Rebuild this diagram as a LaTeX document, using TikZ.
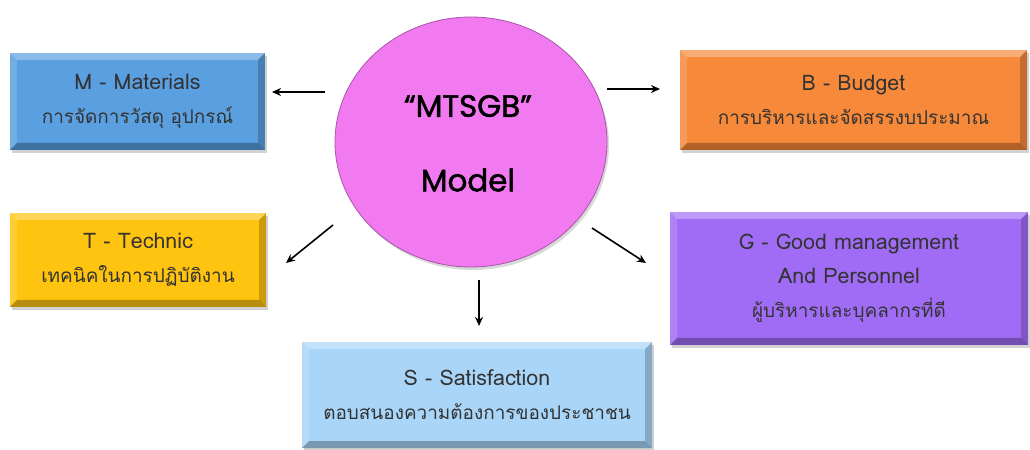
\documentclass[tikz,border=0pt]{standalone}
\usepackage{fontspec}
\usetikzlibrary{shapes.geometric,shadows,calc,arrows.meta}
\newfontfamily\thaifont[Script=Thai]{Loma}
\newfontfamily\circfont[FakeBold=1.6]{Poppins}
\newcommand{\latl}[1]{{\fontsize{21.5}{34}\selectfont #1}}
\definecolor{mblue}{HTML}{5A9FE0}
\definecolor{borange}{HTML}{F7893A}
\definecolor{tyellow}{HTML}{FFC410}
\definecolor{gpurple}{HTML}{A06CF6}
\definecolor{slight}{HTML}{A8D5F8}
\definecolor{cpink}{HTML}{F27AF0}
\definecolor{txt}{HTML}{333333}
\tikzset{
  bevel/.style={path picture={
    \fill[white,opacity=0.30] (path picture bounding box.north west) -- (path picture bounding box.north east) -- ++(-7bp,-7bp) -- ($(path picture bounding box.north west)+(7bp,-7bp)$) -- cycle;
    \fill[white,opacity=0.15] (path picture bounding box.north west) -- ($(path picture bounding box.north west)+(7bp,-7bp)$) -- ($(path picture bounding box.south west)+(7bp,7bp)$) -- (path picture bounding box.south west) -- cycle;
    \fill[black,opacity=0.28] (path picture bounding box.south west) -- (path picture bounding box.south east) -- ++(-7bp,7bp) -- ($(path picture bounding box.south west)+(7bp,7bp)$) -- cycle;
    \fill[black,opacity=0.20] (path picture bounding box.north east) -- ($(path picture bounding box.north east)+(-7bp,-7bp)$) -- ($(path picture bounding box.south east)+(-7bp,7bp)$) -- (path picture bounding box.south east) -- cycle;
  }},
  box/.style={rectangle, inner sep=0pt, bevel, text=txt, align=center,
    font=\thaifont\fontsize{19}{34}\selectfont,
    drop shadow={shadow xshift=2bp, shadow yshift=-3bp, opacity=0.35}},
  arr/.style={-{Stealth[length=9bp,width=8bp]}, line width=1.6bp, black},
}
\begin{document}
\begin{tikzpicture}[x=1bp,y=-1bp]
\useasboundingbox (0,0) rectangle (1030,450);
\fill[white] (0,0) rectangle (1030,450);
% center circle
\node[ellipse, minimum width=272bp, minimum height=250bp, inner sep=0pt,
  fill=cpink, draw=cpink!70!black, line width=0.8bp,
  drop shadow={shadow xshift=2bp, shadow yshift=-3bp, opacity=0.3}] (c) at (471,142) {};
\node[font=\circfont\fontsize{31}{32}\selectfont, text=black] (ct1) at (468,106) {“MTSGB”};
\node[font=\circfont\fontsize{31}{32}\selectfont, text=black] (ct2) at (468,180) {Model};
% boxes
\node[box, fill=mblue, minimum width=255bp, minimum height=97bp] (m) at (137.5,101.5) {\latl{M - Materials}\\การจัดการวัสดุ อุปกรณ์};
\node[box, fill=borange, minimum width=347bp, minimum height=100bp] (b) at (853.5,100) {\latl{B - Budget}\\การบริหารและจัดสรรงบประมาณ};
\node[box, fill=tyellow, minimum width=256bp, minimum height=94bp] (t) at (138,260) {\latl{T - Technic}\\เทคนิคในการปฏิบัติงาน};
\node[box, fill=gpurple, minimum width=358bp, minimum height=133bp] (g) at (849,278.5) {\latl{G - Good management}\\\latl{And Personnel}\\ผู้บริหารและบุคลากรที่ดี};
\node[box, fill=slight, minimum width=350bp, minimum height=106bp] (s) at (477,395) {\latl{S - Satisfaction}\\ตอบสนองความต้องการของประชาชน};
% arrow tails / heads
\coordinate (mt) at (325,92);
\coordinate (mh) at (272,92);
\coordinate (bt) at (607,89);
\coordinate (bh) at (660,89);
\coordinate (tt) at (333,225);
\coordinate (th) at (286,263);
\coordinate (gt) at (592,228);
\coordinate (gh) at (646,263);
\coordinate (st) at (479,280);
\coordinate (sh) at (479,326);
\draw[arr] (mt) -- (mh);
\draw[arr] (bt) -- (bh);
\draw[arr] (tt) -- (th);
\draw[arr] (gt) -- (gh);
\draw[arr] (st) -- (sh);
\end{tikzpicture}
\end{document}
